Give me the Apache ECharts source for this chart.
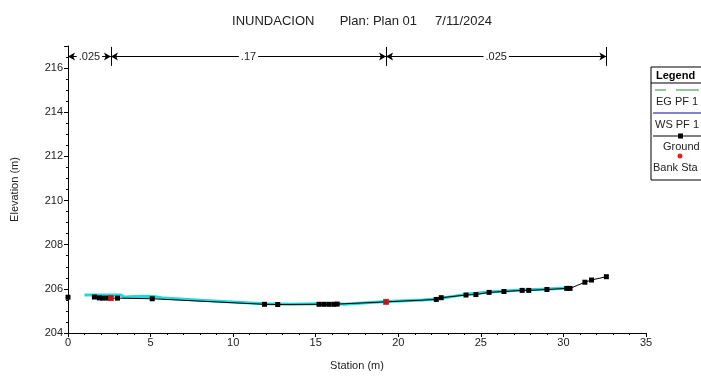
<!DOCTYPE html>
<html><head><meta charset="utf-8">
<script src="https://cdn.jsdelivr.net/npm/echarts@6/dist/echarts.min.js"></script>
<style>html,body{margin:0;padding:0;background:#fff}#c{width:701px;height:376px}</style>
</head><body><div id="c"></div>
<script>
// ---- data ----
var groundStation = [0, 1.6, 1.9, 2.1, 2.4, 2.6, 3.0, 5.1, 11.9, 12.7, 15.2, 15.5, 15.8, 16.1, 16.3, 19.26, 22.3, 22.6, 24.1, 24.7, 25.5, 26.4, 27.5, 27.9, 29.0, 30.2, 30.4, 31.3, 31.7, 32.6];
var groundElev    = [205.62, 205.63, 205.59, 205.58, 205.58, 205.58, 205.58, 205.55, 205.3, 205.29, 205.3, 205.3, 205.3, 205.3, 205.31, 205.41, 205.52, 205.6, 205.72, 205.74, 205.84, 205.88, 205.93, 205.93, 205.97, 206.02, 206.02, 206.3, 206.4, 206.55];
var waterStation = [1.0, 3.2, 3.4, 4.5, 5.2, 5.8, 8.0, 11.9, 13.5, 15.2, 16.3, 16.7, 19.3, 21.5, 22.4, 24.1, 25.5, 27.5, 29.0, 30.4];
var waterElev    = [205.72, 205.72, 205.63, 205.66, 205.65, 205.58, 205.48, 205.32, 205.3, 205.33, 205.34, 205.3, 205.43, 205.49, 205.55, 205.75, 205.86, 205.95, 205.99, 206.04];
var bankStation = [2.6, 19.26];
var bankElev    = [205.58, 205.41];
var nValues = ['.025', '.17', '.025'];
var nBreaks = [0, 2.6, 19.26, 32.6];
var xTicks = [0, 35, 5];
var yTicks = [204, 217, 2];
var titleText = 'INUNDACION       Plan: Plan 01     7/11/2024';
var legendNames = ['EG PF 1', 'WS PF 1', 'Ground', 'Bank Sta'];

function pairs(a, b) { return a.map(function (v, i) { return [v, b[i]]; }); }
var groundData = pairs(groundStation, groundElev);
groundData.splice(1, 0, '-');

var nLine = 216.52, barLo = 216.1, barHi = 216.96;
var arrowSegs = [];
for (var i = 0; i < nValues.length; i++) {
  arrowSegs.push([{coord: [nBreaks[i], nLine], label: {formatter: nValues[i]}}, {coord: [nBreaks[i + 1], nLine]}]);
}
var barSegs = nBreaks.map(function (x) { return [{coord: [x, barLo]}, {coord: [x, barHi]}]; });

var F = 'Liberation Sans, Arial, sans-serif';
var chart = echarts.init(document.getElementById('c'), null, {renderer: 'canvas'});
var lx = 651, ly = 67;
chart.setOption({
  animation: false,
  title: {text: titleText, left: 357, textAlign: 'center', top: 10,
    textStyle: {fontFamily: F, fontSize: 13, fontWeight: 'normal', color: '#222'}},
  grid: {left: 68, right: 55, top: 46, bottom: 37},
  xAxis: {type: 'value', min: xTicks[0], max: xTicks[1], interval: xTicks[2],
    name: 'Station (m)', nameLocation: 'middle', nameGap: 27,
    nameTextStyle: {fontFamily: F, fontSize: 11, color: '#222'},
    axisLine: {lineStyle: {color: '#000', width: 1}},
    axisTick: {length: 4, lineStyle: {color: '#000'}},
    minorTick: {show: true, splitNumber: 5, length: 2, lineStyle: {color: '#000'}},
    axisLabel: {fontFamily: F, fontSize: 11, color: '#222', margin: 4},
    splitLine: {show: false}},
  yAxis: {type: 'value', min: yTicks[0], max: yTicks[1], interval: yTicks[2],
    name: 'Elevation (m)', nameLocation: 'middle', nameGap: 48,
    nameTextStyle: {fontFamily: F, fontSize: 11, color: '#222'},
    axisLine: {show: true, lineStyle: {color: '#000', width: 1}},
    axisTick: {length: 4, lineStyle: {color: '#000'}},
    minorTick: {show: true, splitNumber: 4, length: 2, lineStyle: {color: '#000'}},
    axisLabel: {fontFamily: F, fontSize: 11, color: '#222', margin: 5, showMaxLabel: false},
    splitLine: {show: false}},
  series: [
    {name: 'Water', type: 'line', data: pairs(waterStation, waterElev), symbol: 'none',
      lineStyle: {color: '#22d8dc', width: 3}, z: 2},
    {name: legendNames[2], type: 'line', data: groundData, symbol: 'rect', symbolSize: 5,
      itemStyle: {color: '#000'}, lineStyle: {color: '#000', width: 1}, z: 3},
    {name: legendNames[3], type: 'scatter', data: pairs(bankStation, bankElev), symbol: 'rect', symbolSize: 6,
      itemStyle: {color: '#e02020'}, z: 4},
    {name: 'n', type: 'line', data: [], silent: true,
      markLine: {silent: true, symbol: ['arrow', 'arrow'], symbolSize: [6, 7],
        lineStyle: {color: '#000', width: 1, type: 'solid'},
        label: {show: true, position: 'insideMiddle', fontFamily: F, fontSize: 11, color: '#222',
          backgroundColor: '#fff', padding: [0, 2]},
        data: arrowSegs}},
    {name: 'nbar', type: 'line', data: [], silent: true,
      markLine: {silent: true, symbol: 'none', lineStyle: {color: '#000', width: 1, type: 'solid'},
        label: {show: false}, data: barSegs}}
  ],
  graphic: [
    {type: 'rect', shape: {x: lx, y: ly, width: 70, height: 113}, style: {fill: '#fff', stroke: '#000', lineWidth: 1}, z: 10},
    {type: 'text', x: lx + 5, y: ly + 3, style: {text: 'Legend', fontFamily: F, fontSize: 11, fontWeight: 'bold', fill: '#000'}, z: 11},
    {type: 'line', shape: {x1: lx, y1: ly + 16, x2: 701, y2: ly + 16}, style: {stroke: '#000', lineWidth: 1}, z: 11},
    {type: 'line', shape: {x1: lx + 4, y1: ly + 23, x2: lx + 15, y2: ly + 23}, style: {stroke: '#2a8a3a', lineWidth: 1}, z: 11},
    {type: 'line', shape: {x1: lx + 25, y1: ly + 23, x2: lx + 48, y2: ly + 23}, style: {stroke: '#2a8a3a', lineWidth: 1}, z: 11},
    {type: 'text', x: lx + 5, y: ly + 29, style: {text: legendNames[0], fontFamily: F, fontSize: 11, fill: '#222'}, z: 11},
    {type: 'line', shape: {x1: lx + 2, y1: ly + 46, x2: 701, y2: ly + 46}, style: {stroke: '#5a5ac8', lineWidth: 1.5}, z: 11},
    {type: 'text', x: lx + 4, y: ly + 52, style: {text: legendNames[1], fontFamily: F, fontSize: 11, fill: '#222'}, z: 11},
    {type: 'line', shape: {x1: lx + 2, y1: ly + 69, x2: 701, y2: ly + 69}, style: {stroke: '#000', lineWidth: 1}, z: 11},
    {type: 'rect', shape: {x: lx + 27, y: ly + 66.5, width: 5, height: 5}, style: {fill: '#000'}, z: 12},
    {type: 'text', x: lx + 12, y: ly + 74, style: {text: legendNames[2], fontFamily: F, fontSize: 11, fill: '#222'}, z: 11},
    {type: 'circle', shape: {cx: lx + 29, cy: ly + 89, r: 2.5}, style: {fill: '#e02020'}, z: 11},
    {type: 'text', x: lx + 2, y: ly + 95, style: {text: legendNames[3], fontFamily: F, fontSize: 11, fill: '#222'}, z: 11}
  ]
});
</script></body></html>
